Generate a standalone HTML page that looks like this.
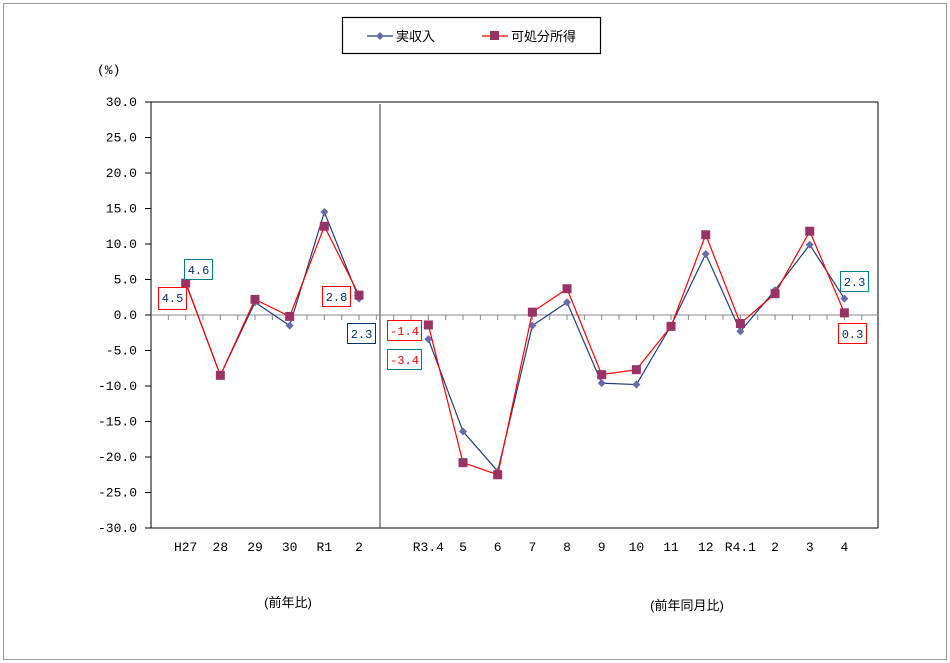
<!DOCTYPE html>
<html><head><meta charset="utf-8"><style>
body{margin:0;background:#fff;}
svg{display:block;font-family:"Liberation Mono","Noto Sans CJK JP",monospace;}
</style></head><body>
<svg width="950" height="663" xmlns="http://www.w3.org/2000/svg">
<rect x="3.5" y="3.5" width="943" height="656" fill="#fff" stroke="#999" stroke-width="1"/>
<rect x="342.5" y="17.5" width="258" height="36" fill="#fff" stroke="#000" stroke-width="1.2"/>
<line x1="367" y1="36" x2="393" y2="36" stroke="#1f3d7a" stroke-width="1.2"/>
<path d="M380 32 L384 36 L380 40 L376 36Z" fill="#6a6aa8"/>
<text x="396" y="41" font-size="13" font-family="Liberation Sans,Noto Sans CJK JP,sans-serif">実収入</text>
<line x1="482" y1="36" x2="508" y2="36" stroke="#ff0000" stroke-width="1.2"/>
<rect x="490" y="31" width="9" height="9" fill="#993366"/>
<text x="511" y="41" font-size="13" font-family="Liberation Sans,Noto Sans CJK JP,sans-serif">可処分所得</text>
<text x="97" y="74" font-size="13">(%)</text>
<line x1="150" y1="102" x2="878" y2="102" stroke="#000"/>
<line x1="150" y1="528" x2="878" y2="528" stroke="#000"/>
<line x1="878" y1="102" x2="878" y2="528" stroke="#000"/>
<line x1="151" y1="102" x2="151" y2="528" stroke="#000"/>
<line x1="380" y1="104" x2="380" y2="528" stroke="#555" stroke-width="1.2"/>
<line x1="151" y1="315" x2="878" y2="315" stroke="#888"/>
<g stroke="#000" id="yt"></g>
<g font-size="13" text-anchor="end" id="yl"></g>
<g stroke="#888" id="xt"></g>
<g font-size="13" text-anchor="middle" id="xl"></g>
<g id="series"></g>
<g font-size="12" text-anchor="middle">
<rect x="158.5" y="287.5" width="28" height="22" fill="#fff" stroke="#f00"/><text x="172.5" y="302" fill="#003366">4.5</text>
<rect x="184.5" y="259.5" width="28" height="20" fill="#fff" stroke="#008080"/><text x="198.5" y="274" fill="#003366">4.6</text>
<rect x="322.5" y="286.5" width="28" height="20" fill="#fff" stroke="#f00"/><text x="336.5" y="301" fill="#003366">2.8</text>
<rect x="347.5" y="323.5" width="28" height="20" fill="#fff" stroke="#003366"/><text x="361.5" y="338" fill="#003366">2.3</text>
<rect x="387.5" y="320.5" width="34" height="20" fill="#fff" stroke="#f00"/><text x="404.5" y="335" fill="#f00">-1.4</text>
<rect x="387.5" y="349.5" width="34" height="20" fill="#fff" stroke="#008080"/><text x="404.5" y="364" fill="#f00">-3.4</text>
<rect x="840.5" y="271.5" width="28" height="20" fill="#fff" stroke="#008080"/><text x="854.5" y="286" fill="#003366">2.3</text>
<rect x="838.5" y="323.5" width="28" height="20" fill="#fff" stroke="#f00"/><text x="852.5" y="338" fill="#003366">0.3</text>
</g>
<text x="288" y="607" font-size="13" text-anchor="middle" font-family="Liberation Sans,Noto Sans CJK JP,sans-serif">(前年比)</text>
<text x="687" y="610" font-size="13" text-anchor="middle" font-family="Liberation Sans,Noto Sans CJK JP,sans-serif">(前年同月比)</text>
</svg>
<script>
const NS="http://www.w3.org/2000/svg";
function el(p,t,a,txt){const e=document.createElementNS(NS,t);for(const k in a)e.setAttribute(k,a[k]);if(txt!==undefined)e.textContent=txt;document.getElementById(p).appendChild(e);return e;}
const Y=v=>315-v*7.1;
for(let v=-30;v<=30;v+=5){const y=Y(v);el('yt','line',{x1:145,y1:y,x2:151,y2:y});el('yl','text',{x:137,y:y+4},v.toFixed(1));}
const X=i=>151+34.67*(i+1);
for(let i=-0.5;i<20;i+=0.5){el('xt','line',{x1:X(i),y1:315,x2:X(i),y2:320});}
const labs=["H27","28","29","30","R1","2",null,"R3.4","5","6","7","8","9","10","11","12","R4.1","2","3","4"];
labs.forEach((l,i)=>{if(l)el('xl','text',{x:X(i),y:551},l);});
const a=[[4.6,-8.5,1.8,-1.5,14.5,2.3],[-3.4,-16.4,-22.0,-1.5,1.8,-9.6,-9.8,-1.5,8.6,-2.3,3.5,9.9,2.3]];
const b=[[4.5,-8.5,2.2,-0.2,12.5,2.8],[-1.4,-20.8,-22.5,0.4,3.7,-8.4,-7.7,-1.6,11.3,-1.2,3.0,11.8,0.3]];
function draw(d,off,col,mk){const pts=d.map((v,j)=>[X(j+off),Y(v)]);
el('series','polyline',{points:pts.map(p=>p.join(',')).join(' '),fill:'none',stroke:col,'stroke-width':1.2});
pts.forEach(p=>{if(mk=='d')el('series','path',{d:`M${p[0]} ${p[1]-4}L${p[0]+4} ${p[1]}L${p[0]} ${p[1]+4}L${p[0]-4} ${p[1]}Z`,fill:'#6a6aa8'});else el('series','rect',{x:p[0]-4.5,y:p[1]-4.5,width:9,height:9,fill:'#993366'});});}
draw(a[0],0,'#1f3d7a','d');draw(a[1],7,'#1f3d7a','d');
draw(b[0],0,'#ff0000','s');draw(b[1],7,'#ff0000','s');
</script>
</body></html>
